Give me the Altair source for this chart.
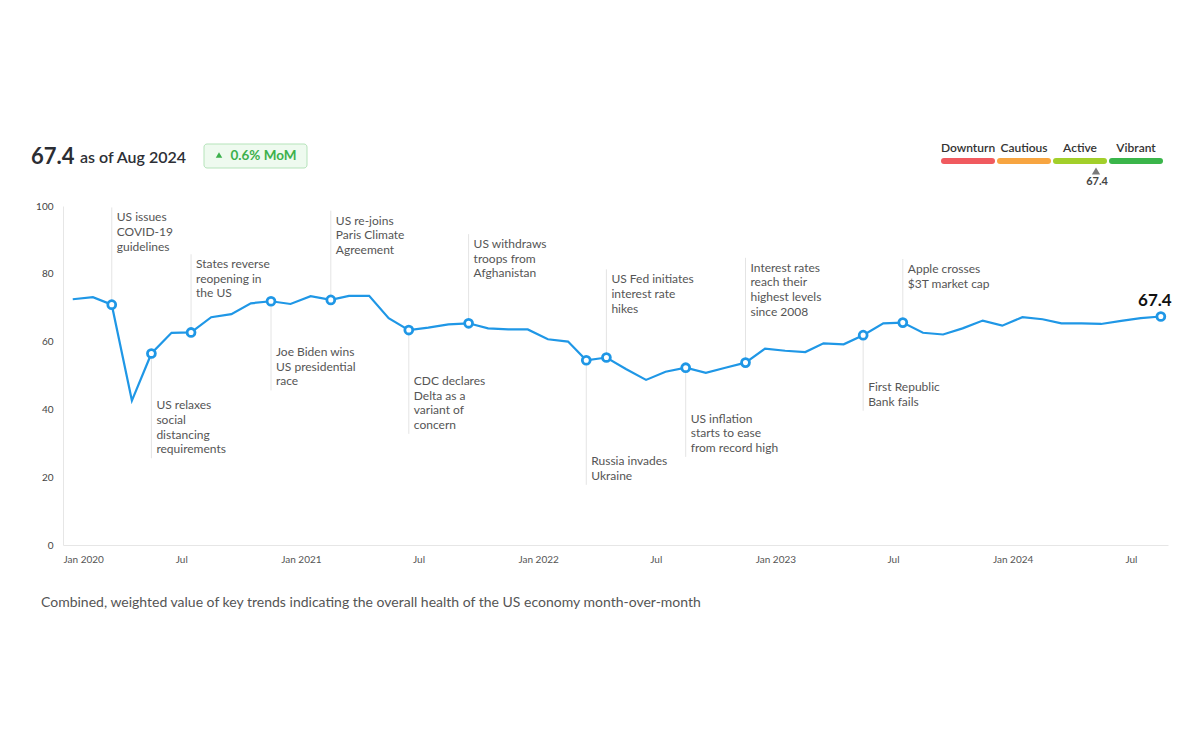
import altair as alt
import pandas as pd

# ---------------- data ----------------
start_year = 2020
values = [72.5, 73.1, 70.9, 42.6, 56.5, 62.6, 62.7, 67.2, 68.1, 71.3, 71.9, 71.1,
          73.4, 72.3, 73.5, 73.5, 66.9, 63.4, 64.1, 65.1, 65.4, 63.9, 63.6, 63.6,
          60.7, 60.0, 54.5, 55.3, 51.9, 48.7, 51.1, 52.3, 50.8, 52.3, 53.8, 57.9,
          57.3, 56.9, 59.5, 59.2, 61.9, 65.4, 65.6, 62.6, 62.1, 63.9, 66.2, 64.7,
          67.2, 66.6, 65.4, 65.4, 65.2, 66.1, 66.9, 67.4]

event_idx = [2, 4, 6, 10, 13, 17, 20, 26, 27, 31, 34, 40, 42]
event_text = [
    ["US issues", "COVID-19", "guidelines"],
    ["US relaxes", "social", "distancing", "requirements"],
    ["States reverse", "reopening in", "the US"],
    ["Joe Biden wins", "US presidential", "race"],
    ["US re-joins", "Paris Climate", "Agreement"],
    ["CDC declares", "Delta as a", "variant of", "concern"],
    ["US withdraws", "troops from", "Afghanistan"],
    ["Russia invades", "Ukraine"],
    ["US Fed initiates", "interest rate", "hikes"],
    ["US inflation", "starts to ease", "from record high"],
    ["Interest rates", "reach their", "highest levels", "since 2008"],
    ["First Republic", "Bank fails"],
    ["Apple crosses", "$3T market cap"],
]

gauge_labels = ["Downturn", "Cautious", "Active", "Vibrant"]
gauge_colors = ["#f05a5f", "#f7a541", "#a2cf2a", "#3ab54a"]

current_value = "67.4"
as_of = "as of Aug 2024"
mom = "0.6% MoM"
caption = "Combined, weighted value of key trends indicating the overall health of the US economy month-over-month"

# ---------------- layout (pixels) ----------------
W, H = 1105, 339
PX_PER_UNIT = H / 100.0
LINE_H = 14.6
# signed pixel gap between point and nearest text line (negative = above)
label_gap = [-58, 52, -39, 51, -50, 51, -50, 101, -49, 51, -51, 52, -39]
FONT = "Lato"
BLUE = "#1f97e6"
TEXT_GREY = "#555"

def month_date(i):
    y = start_year + i // 12
    m = i % 12 + 1
    return f"{y}-{m:02d}-16"

df = pd.DataFrame({"date": [month_date(i) for i in range(len(values))], "value": values})

ev_rows, rule_rows = [], []
for idx, lines, gap in zip(event_idx, event_text, label_gap):
    v = values[idx]
    d = month_date(idx)
    n = len(lines)
    for k, t in enumerate(lines):
        if gap < 0:
            off = -gap + (n - 1 - k) * LINE_H
            tv = v + off / PX_PER_UNIT
        else:
            off = gap + k * LINE_H
            tv = v - off / PX_PER_UNIT
        ev_rows.append({"date": d, "tval": tv, "line": t})
    if gap < 0:
        end = v + (-gap + (n - 1) * LINE_H + 10) / PX_PER_UNIT
    else:
        end = v - (gap + (n - 1) * LINE_H + 9) / PX_PER_UNIT
    rule_rows.append({"date": d, "value": v, "yend": end})

ev_df = pd.DataFrame(ev_rows)
rule_df = pd.DataFrame(rule_rows)
pts_df = pd.DataFrame({"date": [month_date(i) for i in event_idx + [len(values) - 1]],
                       "value": [values[i] for i in event_idx + [len(values) - 1]]})
last_df = pd.DataFrame({"date": [month_date(len(values) - 1)], "value": [values[-1]],
                        "label": [current_value]})

x_scale = alt.Scale(type="utc",
                    domain=[alt.DateTime(year=2020, month=1, date=1, utc=True),
                            alt.DateTime(year=2024, month=8, date=27, utc=True)])
y_scale = alt.Scale(domain=[0, 100], nice=False)

x_axis = alt.Axis(title=None, grid=False, ticks=False, domainColor="#e6e6e6",
                  labelColor=TEXT_GREY, labelFontSize=10, labelFont=FONT, labelPadding=9,
                  tickCount={"interval": "month", "step": 6},
                  labelExpr="utcmonth(datum.value) == 0 ? utcFormat(datum.value, '%b %Y') : utcFormat(datum.value, '%b')")
y_axis = alt.Axis(title=None, grid=False, ticks=False, domainColor="#e6e6e6",
                  labelColor="#444", labelFontSize=10, labelFont=FONT, labelPadding=10,
                  values=[0, 20, 40, 60, 80, 100])

X = alt.X("date:T", scale=x_scale, axis=x_axis)
Y = alt.Y("value:Q", scale=y_scale, axis=y_axis)

rules = alt.Chart(rule_df).mark_rule(color="#e4e4e4", strokeWidth=1).encode(
    x=alt.X("date:T", scale=x_scale, axis=x_axis), y=Y, y2="yend:Q")

line = alt.Chart(df).mark_line(color=BLUE, strokeWidth=2.2).encode(x=X, y=Y)

pts = alt.Chart(pts_df).mark_point(shape="circle", filled=True, fill="white", stroke=BLUE,
                                   strokeWidth=2.8, size=62, opacity=1).encode(x=X, y=Y)

ev_text = alt.Chart(ev_df).mark_text(align="left", baseline="middle", dx=5, font=FONT,
                                     fontSize=12, color=TEXT_GREY).encode(
    x=alt.X("date:T", scale=x_scale), y=alt.Y("tval:Q", scale=y_scale), text="line:N")

last_lbl = alt.Chart(last_df).mark_text(align="center", baseline="middle", dx=-6, dy=-16,
                                        font=FONT, fontSize=17, fontWeight="bold",
                                        color="#111").encode(x=X, y=Y, text="label:N")

def txt(s, x, y, **kw):
    return alt.Chart(pd.DataFrame({"t": [s]})).mark_text(font=FONT, **kw).encode(
        text="t:N", x=alt.value(x), y=alt.value(y))

header_val = txt(current_value, -32, -42, align="left", baseline="alphabetic",
                 fontSize=22, fontWeight="bold", color="#2b2d33")
header_asof = txt(as_of, 17, -43, align="left", baseline="alphabetic",
                  fontSize=16, fontWeight=600, color="#2d2f36")

badge = alt.Chart(pd.DataFrame({"a": [0]})).mark_rect(
    fill="#eefaef", stroke="#b5e3ba", strokeWidth=1, cornerRadius=3).encode(
    x=alt.value(141), x2=alt.value(244), y=alt.value(-62), y2=alt.value(-38))
badge_tri = alt.Chart(pd.DataFrame({"a": [0]})).mark_point(
    shape="triangle-up", filled=True, color="#3cb04c", size=42, opacity=1).encode(
    x=alt.value(156), y=alt.value(-51))
badge_txt = txt(mom, 200.5, -50, align="center", baseline="middle", fontSize=13.5,
                fontWeight="bold", color="#3cb04c")

# gauge
g_left, g_seg, g_gap = 878, 54, 2
g_df = pd.DataFrame({"label": gauge_labels, "color": gauge_colors})
g_df["x0"] = [g_left + i * (g_seg + g_gap) + 3 for i in range(4)]
g_df["x1"] = g_df["x0"] + g_seg - 6
g_df["xc"] = g_df["x0"] + (g_seg - 6) / 2
gauge_bars = alt.Chart(g_df).mark_rule(strokeWidth=6, strokeCap="round").encode(
    x=alt.X("x0:Q", scale=None), x2="x1:Q", y=alt.value(-45),
    color=alt.Color("color:N", scale=None))
gauge_lbl = alt.Chart(g_df).mark_text(font=FONT, fontSize=12, fontWeight=600,
                                      color="#333", baseline="middle").encode(
    x=alt.X("xc:Q", scale=None), y=alt.value(-58), text="label:N")
g_tri = alt.Chart(pd.DataFrame({"a": [0]})).mark_point(
    shape="triangle-up", filled=True, color="#7a7a7a", size=70, opacity=1).encode(
    x=alt.value(1033), y=alt.value(-35))
g_val = txt(current_value, 1034, -24, align="center", baseline="middle", fontSize=11,
            fontWeight="bold", color="#444")

cap = txt(caption, -22, 397, align="left", baseline="middle", fontSize=14, color=TEXT_GREY)

chart = alt.layer(rules, line, pts, ev_text, last_lbl, header_val, header_asof, badge,
                  badge_tri, badge_txt, gauge_bars, gauge_lbl, g_tri, g_val, cap).properties(
    width=W, height=H,
    autosize=alt.AutoSizeParams(type="none"),
    padding={"left": 55, "top": 198, "right": 16, "bottom": 180},
).configure(font=FONT, background="white").configure_view(stroke=None, strokeWidth=0)

chart.save("out.html", embed_options={"renderer": "svg", "actions": False})
